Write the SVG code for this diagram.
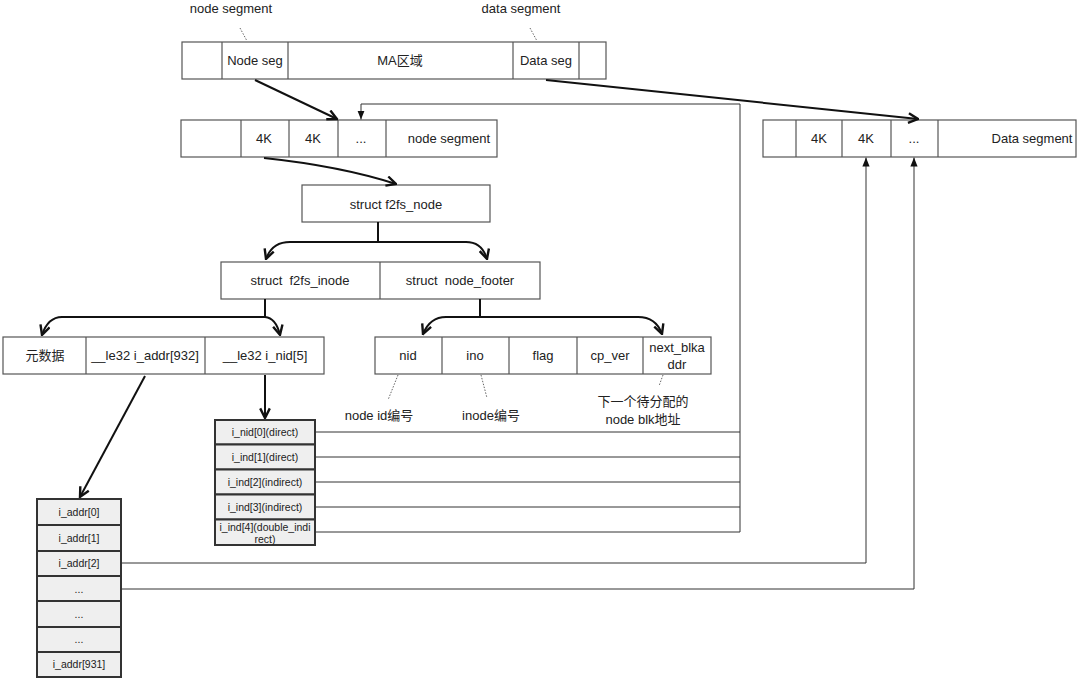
<svg xmlns="http://www.w3.org/2000/svg" width="1080" height="680" viewBox="0 0 1080 680">
<style>
text{font-family:"Liberation Sans","Noto Sans CJK SC",sans-serif;font-size:13px;fill:#222;text-anchor:middle;dominant-baseline:central;white-space:pre}
.b{fill:#fff;stroke:#555;stroke-width:1.2}
.c{fill:#efefef;stroke:#333;stroke-width:2}
.s{font-size:10.5px}
.t{fill:none;stroke:#111;stroke-width:2}
.n{fill:none;stroke:#333;stroke-width:1}
.d{fill:none;stroke:#666;stroke-width:1;stroke-dasharray:1.5 1.5}
</style>
<defs>
<marker id="open" viewBox="0 0 10 10" refX="9" refY="5" markerWidth="6" markerHeight="6" orient="auto" markerUnits="strokeWidth">
<path d="M1,1 L9,5 L1,9" fill="none" stroke="#111" stroke-width="2"/>
</marker>
<marker id="tri" viewBox="0 0 10 10" refX="10" refY="5" markerWidth="9" markerHeight="9" orient="auto" markerUnits="strokeWidth">
<path d="M0,1 L10,5 L0,9 Z" fill="#111"/>
</marker>
</defs>
<g id="labels">
<text x="231" y="8">node segment</text>
<text x="521" y="8">data segment</text>
<line class="d" x1="240" y1="28" x2="247" y2="41"/>
<line class="d" x1="530" y1="28" x2="537" y2="41"/>
</g>
<g id="ma-row">
<rect class="b" x="182" y="42" width="424" height="37"/>
<line class="b" x1="222" y1="42" x2="222" y2="79"/>
<line class="b" x1="288" y1="42" x2="288" y2="79"/>
<line class="b" x1="513" y1="42" x2="513" y2="79"/>
<line class="b" x1="579" y1="42" x2="579" y2="79"/>
<text x="255" y="60">Node seg</text>
<text x="400" y="60">MA区域</text>
<text x="546" y="60">Data seg</text>
</g>
<g id="node-seg-row">
<rect class="b" x="181" y="120" width="316" height="37"/>
<line class="b" x1="241" y1="120" x2="241" y2="157"/>
<line class="b" x1="289" y1="120" x2="289" y2="157"/>
<line class="b" x1="338" y1="120" x2="338" y2="157"/>
<line class="b" x1="386" y1="120" x2="386" y2="157"/>
<text x="264" y="138">4K</text>
<text x="313" y="138">4K</text>
<text x="361" y="138">...</text>
<text x="449" y="138">node segment</text>
</g>
<g id="data-seg-row">
<rect class="b" x="763" y="120" width="313" height="37"/>
<line class="b" x1="796" y1="120" x2="796" y2="157"/>
<line class="b" x1="842" y1="120" x2="842" y2="157"/>
<line class="b" x1="891" y1="120" x2="891" y2="157"/>
<line class="b" x1="938" y1="120" x2="938" y2="157"/>
<text x="819" y="138">4K</text>
<text x="866" y="138">4K</text>
<text x="914" y="138">...</text>
<text x="1032" y="138">Data segment</text>
</g>
<g id="f2fs-node">
<rect class="b" x="302" y="185" width="188" height="37"/>
<text x="396" y="204">struct f2fs_node</text>
</g>
<g id="inode-footer-row">
<rect class="b" x="221" y="262" width="319" height="37"/>
<line class="b" x1="380" y1="262" x2="380" y2="299"/>
<text x="300" y="280" xml:space="preserve">struct  f2fs_inode</text>
<text x="460" y="280" xml:space="preserve">struct  node_footer</text>
</g>
<g id="inode-row">
<rect class="b" x="3" y="337" width="321" height="37"/>
<line class="b" x1="86" y1="337" x2="86" y2="374"/>
<line class="b" x1="205" y1="337" x2="205" y2="374"/>
<text x="45" y="355">元数据</text>
<text x="145" y="355">__le32 i_addr[932]</text>
<text x="265" y="355">__le32 i_nid[5]</text>
</g>
<g id="footer-row">
<rect class="b" x="375" y="337" width="336" height="37"/>
<line class="b" x1="442" y1="337" x2="442" y2="374"/>
<line class="b" x1="509" y1="337" x2="509" y2="374"/>
<line class="b" x1="577" y1="337" x2="577" y2="374"/>
<line class="b" x1="643" y1="337" x2="643" y2="374"/>
<text x="408" y="355">nid</text>
<text x="475" y="355">ino</text>
<text x="543" y="355">flag</text>
<text x="610" y="355">cp_ver</text>
<text x="677" y="347">next_blka</text>
<text x="677" y="364">ddr</text>
</g>
<g id="footer-notes">
<line class="d" x1="398" y1="375" x2="388" y2="400"/>
<line class="d" x1="481" y1="375" x2="487" y2="398"/>
<line class="d" x1="663" y1="375" x2="659" y2="386"/>
<text x="379" y="415">node id编号</text>
<text x="491" y="415">inode编号</text>
<text x="643" y="401">下一个待分配的</text>
<text x="643" y="419">node blk地址</text>
</g>
<g id="i-nid-list">
<rect class="c" x="215" y="420" width="100" height="24.5"/>
<rect class="c" x="215" y="444.5" width="100" height="25"/>
<rect class="c" x="215" y="469.5" width="100" height="25"/>
<rect class="c" x="215" y="494.5" width="100" height="25"/>
<rect class="c" x="215" y="519.5" width="100" height="25.5"/>
<text class="s" x="265" y="432">i_nid[0](direct)</text>
<text class="s" x="265" y="457">i_ind[1](direct)</text>
<text class="s" x="265" y="482">i_ind[2](indirect)</text>
<text class="s" x="265" y="507">i_ind[3](indirect)</text>
<text class="s" x="265" y="527">i_ind[4](double_indi</text>
<text class="s" x="265" y="539">rect)</text>
</g>
<g id="i-addr-list">
<rect class="c" x="37" y="499" width="84" height="26"/>
<rect class="c" x="37" y="525" width="84" height="26"/>
<rect class="c" x="37" y="551" width="84" height="25"/>
<rect class="c" x="37" y="576" width="84" height="25"/>
<rect class="c" x="37" y="601" width="84" height="26"/>
<rect class="c" x="37" y="627" width="84" height="25"/>
<rect class="c" x="37" y="652" width="84" height="25"/>
<text class="s" x="79" y="512">i_addr[0]</text>
<text class="s" x="79" y="538">i_addr[1]</text>
<text class="s" x="79" y="563">i_addr[2]</text>
<text class="s" x="79" y="589">...</text>
<text class="s" x="79" y="614">...</text>
<text class="s" x="79" y="639">...</text>
<text class="s" x="79" y="664">i_addr[931]</text>
</g>
<g id="connectors">
<line class="t" x1="255" y1="80" x2="337" y2="119" marker-end="url(#open)"/>
<line class="t" x1="546" y1="80" x2="918" y2="119" marker-end="url(#open)"/>
<path class="t" d="M264,158 Q340,166 396,184" marker-end="url(#open)"/>
<path class="t" d="M378,222 V242"/>
<path class="t" d="M378,242 H290 Q272,242 266,259" marker-end="url(#open)"/>
<path class="t" d="M378,242 H466 Q482,242 487,259" marker-end="url(#open)"/>
<path class="t" d="M265,299 V317"/>
<path class="t" d="M265,317 H62 Q48,317 42,335" marker-end="url(#open)"/>
<path class="t" d="M265,317 Q276,318 280,335" marker-end="url(#open)"/>
<path class="t" d="M480,299 V317"/>
<path class="t" d="M480,317 H446 Q430,317 423,334" marker-end="url(#open)"/>
<path class="t" d="M480,317 H638 Q656,317 662,334" marker-end="url(#open)"/>
<line class="t" x1="145" y1="376" x2="80" y2="497" marker-end="url(#open)"/>
<line class="t" x1="265" y1="375" x2="265" y2="418" marker-end="url(#open)"/>
<path class="n" d="M315,432 H740 M315,457 H740 M315,482 H740 M315,507 H740 M315,532 H740 M740,532 V104"/>
<path class="n" d="M740,104 H361 V119.5" marker-end="url(#tri)"/>
<path class="n" d="M121,563 H866 V157.5" marker-end="url(#tri)"/>
<path class="n" d="M121,589 H914 V157.5" marker-end="url(#tri)"/>
</g>
</svg>
